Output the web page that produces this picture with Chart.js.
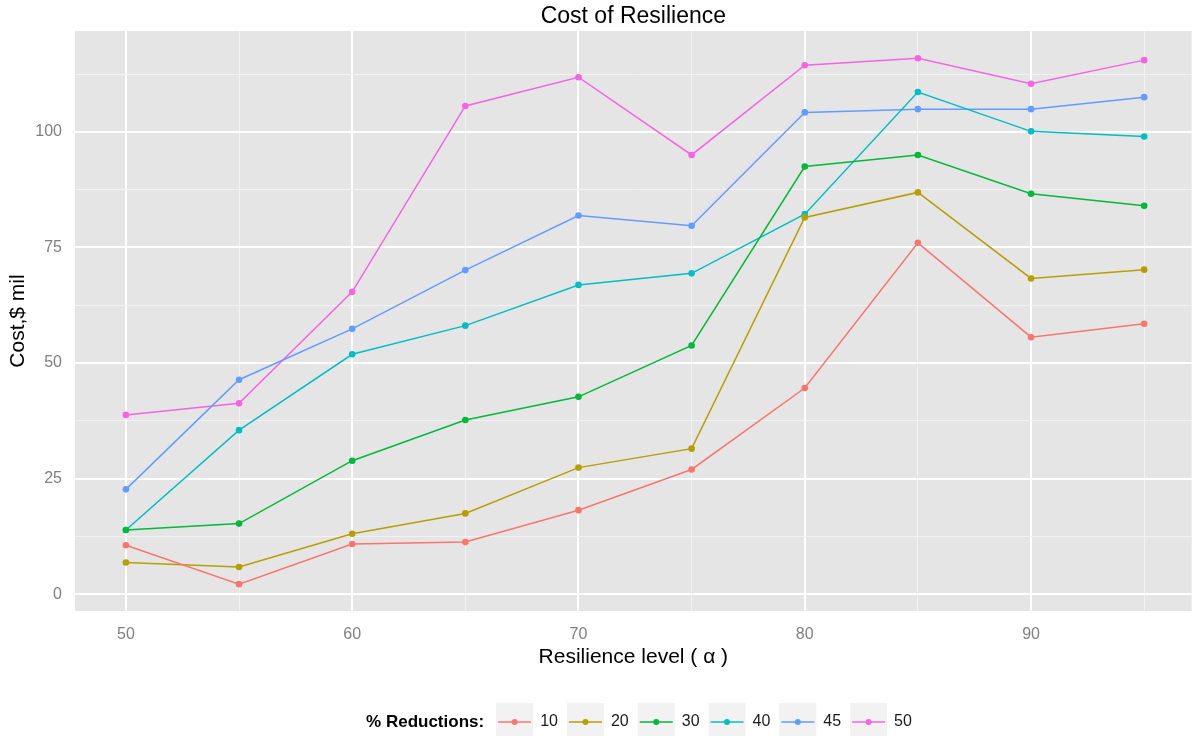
<!DOCTYPE html>
<html>
<head>
<meta charset="utf-8">
<script src="https://cdn.jsdelivr.net/npm/chart.js@4"></script>
<style>
html,body{margin:0;padding:0;background:#fff;}
canvas{display:block;}
</style>
</head>
<body>
<canvas id="c" width="1195" height="736"></canvas>
<script>
// ---- data ----
const resilienceLevels = [50, 55, 60, 65, 70, 75, 80, 85, 90, 95];
const reductionLabels = ['10', '20', '30', '40', '45', '50'];
const cost10 = [10.6, 2.2, 10.9, 11.3, 18.2, 27.0, 44.6, 76.0, 55.6, 58.5];
const cost20 = [6.9, 5.9, 13.1, 17.5, 27.4, 31.5, 81.5, 86.9, 68.3, 70.2];
const cost30 = [13.9, 15.3, 28.9, 37.7, 42.7, 53.8, 92.5, 95.0, 86.6, 84.0];
const cost40 = [13.9, 35.5, 51.9, 58.1, 66.9, 69.4, 82.2, 108.6, 100.1, 99.0];
const cost45 = [22.7, 46.4, 57.4, 70.1, 81.9, 79.7, 104.2, 104.9, 104.9, 107.5];
const cost50 = [38.8, 41.3, 65.4, 105.6, 111.8, 95.0, 114.4, 115.9, 110.4, 115.5];
const xTicks = [50, 55, 60, 65, 70, 75, 80, 85, 90, 95];
const yTicks = [0, 12.5, 25, 37.5, 50, 62.5, 75, 87.5, 100, 112.5];
const seriesColors = ['#F8766D', '#B79F00', '#00BA38', '#00BFC4', '#619CFF', '#F564E3'];
const chartTitle = 'Cost of Resilience';
const xTitle = 'Resilience level ( \u03B1 )';
const yTitle = 'Cost,$ mil';
const legendTitle = '% Reductions:';

const allSeries = [cost10, cost20, cost30, cost40, cost45, cost50];
const FONT = '"Liberation Sans", Arial, sans-serif';

const datasets = allSeries.map((vals, i) => ({
  label: reductionLabels[i],
  data: vals.map((v, j) => ({x: resilienceLevels[j], y: v})),
  borderColor: seriesColors[i],
  backgroundColor: seriesColors[i],
  borderWidth: 1.5,
  pointRadius: 3.3,
  pointBorderWidth: 0,
  pointHoverRadius: 3.3,
  tension: 0,
  fill: false
}));

const bgPlugin = {
  id: 'panelBg',
  beforeDraw(chart) {
    const {ctx, chartArea: a} = chart;
    ctx.save();
    ctx.fillStyle = '#e5e5e5';
    ctx.fillRect(a.left, a.top, a.right - a.left, a.bottom - a.top);
    ctx.restore();
  }
};

const titlePlugin = {
  id: 'ggTitle',
  afterDraw(chart) {
    const {ctx, chartArea: a} = chart;
    ctx.save();
    ctx.font = '23px ' + FONT;
    ctx.fillStyle = '#000';
    ctx.textAlign = 'center';
    ctx.textBaseline = 'middle';
    ctx.fillText(chartTitle, (a.left + a.right) / 2, 17);
    ctx.restore();
  }
};

const legendPlugin = {
  id: 'ggLegend',
  afterDraw(chart) {
    const ctx = chart.ctx;
    const ds = chart.data.datasets;
    const cy = 722, boxW = 37, boxTop = 703, boxH = 40;
    ctx.save();
    ctx.font = 'bold 17px ' + FONT;
    const tW = ctx.measureText(legendTitle).width;
    ctx.font = '16px ' + FONT;
    const lW = ds.map(d => ctx.measureText(d.label).width);
    let total = tW + 12;
    lW.forEach((w, i) => { total += boxW + 7 + w + (i < lW.length - 1 ? 9 : 0); });
    let x = 639 - total / 2;
    ctx.textBaseline = 'middle';
    ctx.textAlign = 'left';
    ctx.fillStyle = '#000';
    ctx.font = 'bold 17px ' + FONT;
    ctx.fillText(legendTitle, x, cy);
    x += tW + 12;
    ctx.font = '16px ' + FONT;
    ds.forEach((d, i) => {
      ctx.fillStyle = '#f2f2f2';
      ctx.fillRect(x, boxTop, boxW, boxH);
      ctx.strokeStyle = d.borderColor;
      ctx.lineWidth = 1.5;
      ctx.beginPath();
      ctx.moveTo(x + 2, cy);
      ctx.lineTo(x + boxW - 2, cy);
      ctx.stroke();
      ctx.fillStyle = d.borderColor;
      ctx.beginPath();
      ctx.arc(x + boxW / 2, cy, 3, 0, Math.PI * 2);
      ctx.fill();
      ctx.fillStyle = '#1a1a1a';
      ctx.fillText(d.label, x + boxW + 7, cy);
      x += boxW + 7 + lW[i] + 9;
    });
    ctx.restore();
  }
};

new Chart(document.getElementById('c'), {
  type: 'line',
  data: {datasets},
  plugins: [bgPlugin, titlePlugin, legendPlugin],
  options: {
    responsive: false,
    animation: false,
    events: [],
    layout: {padding: {left: 0, right: 0, top: 31, bottom: 65}},
    plugins: {
      legend: {display: false},
      tooltip: {enabled: false},
      title: {display: false}
    },
    scales: {
      x: {
        type: 'linear',
        min: 47.75,
        max: 97.1,
        afterBuildTicks(scale) { scale.ticks = xTicks.map(v => ({value: v})); },
        afterFit(scale) { scale.height = 60; },
        border: {display: false},
        grid: {
          drawTicks: false,
          color: c => (c.tick && c.tick.value % 10 === 0) ? '#ffffff' : '#f2f2f2',
          lineWidth: c => (c.tick && c.tick.value % 10 === 0) ? 2 : 1
        },
        ticks: {
          autoSkip: false,
          maxRotation: 0,
          padding: 14,
          color: '#808080',
          font: {family: FONT, size: 16},
          callback: v => (v % 10 === 0 ? String(v) : '')
        },
        title: {
          display: true,
          text: xTitle,
          color: '#000',
          font: {family: FONT, size: 21},
          padding: {top: 0, bottom: 1}
        }
      },
      y: {
        type: 'linear',
        min: -3.6,
        max: 121.8,
        afterBuildTicks(scale) { scale.ticks = yTicks.map(v => ({value: v})); },
        afterFit(scale) { scale.width = 75; },
        border: {display: false},
        grid: {
          drawTicks: false,
          color: c => (c.tick && c.tick.value % 25 === 0) ? '#ffffff' : '#f2f2f2',
          lineWidth: c => (c.tick && c.tick.value % 25 === 0) ? 2 : 1
        },
        ticks: {
          autoSkip: false,
          padding: 13,
          color: '#808080',
          font: {family: FONT, size: 16},
          callback: v => (v % 25 === 0 ? String(v) : '')
        },
        title: {
          display: true,
          text: yTitle,
          color: '#000',
          font: {family: FONT, size: 21},
          padding: {top: 6, bottom: 0}
        }
      }
    }
  }
});
</script>
</body>
</html>
